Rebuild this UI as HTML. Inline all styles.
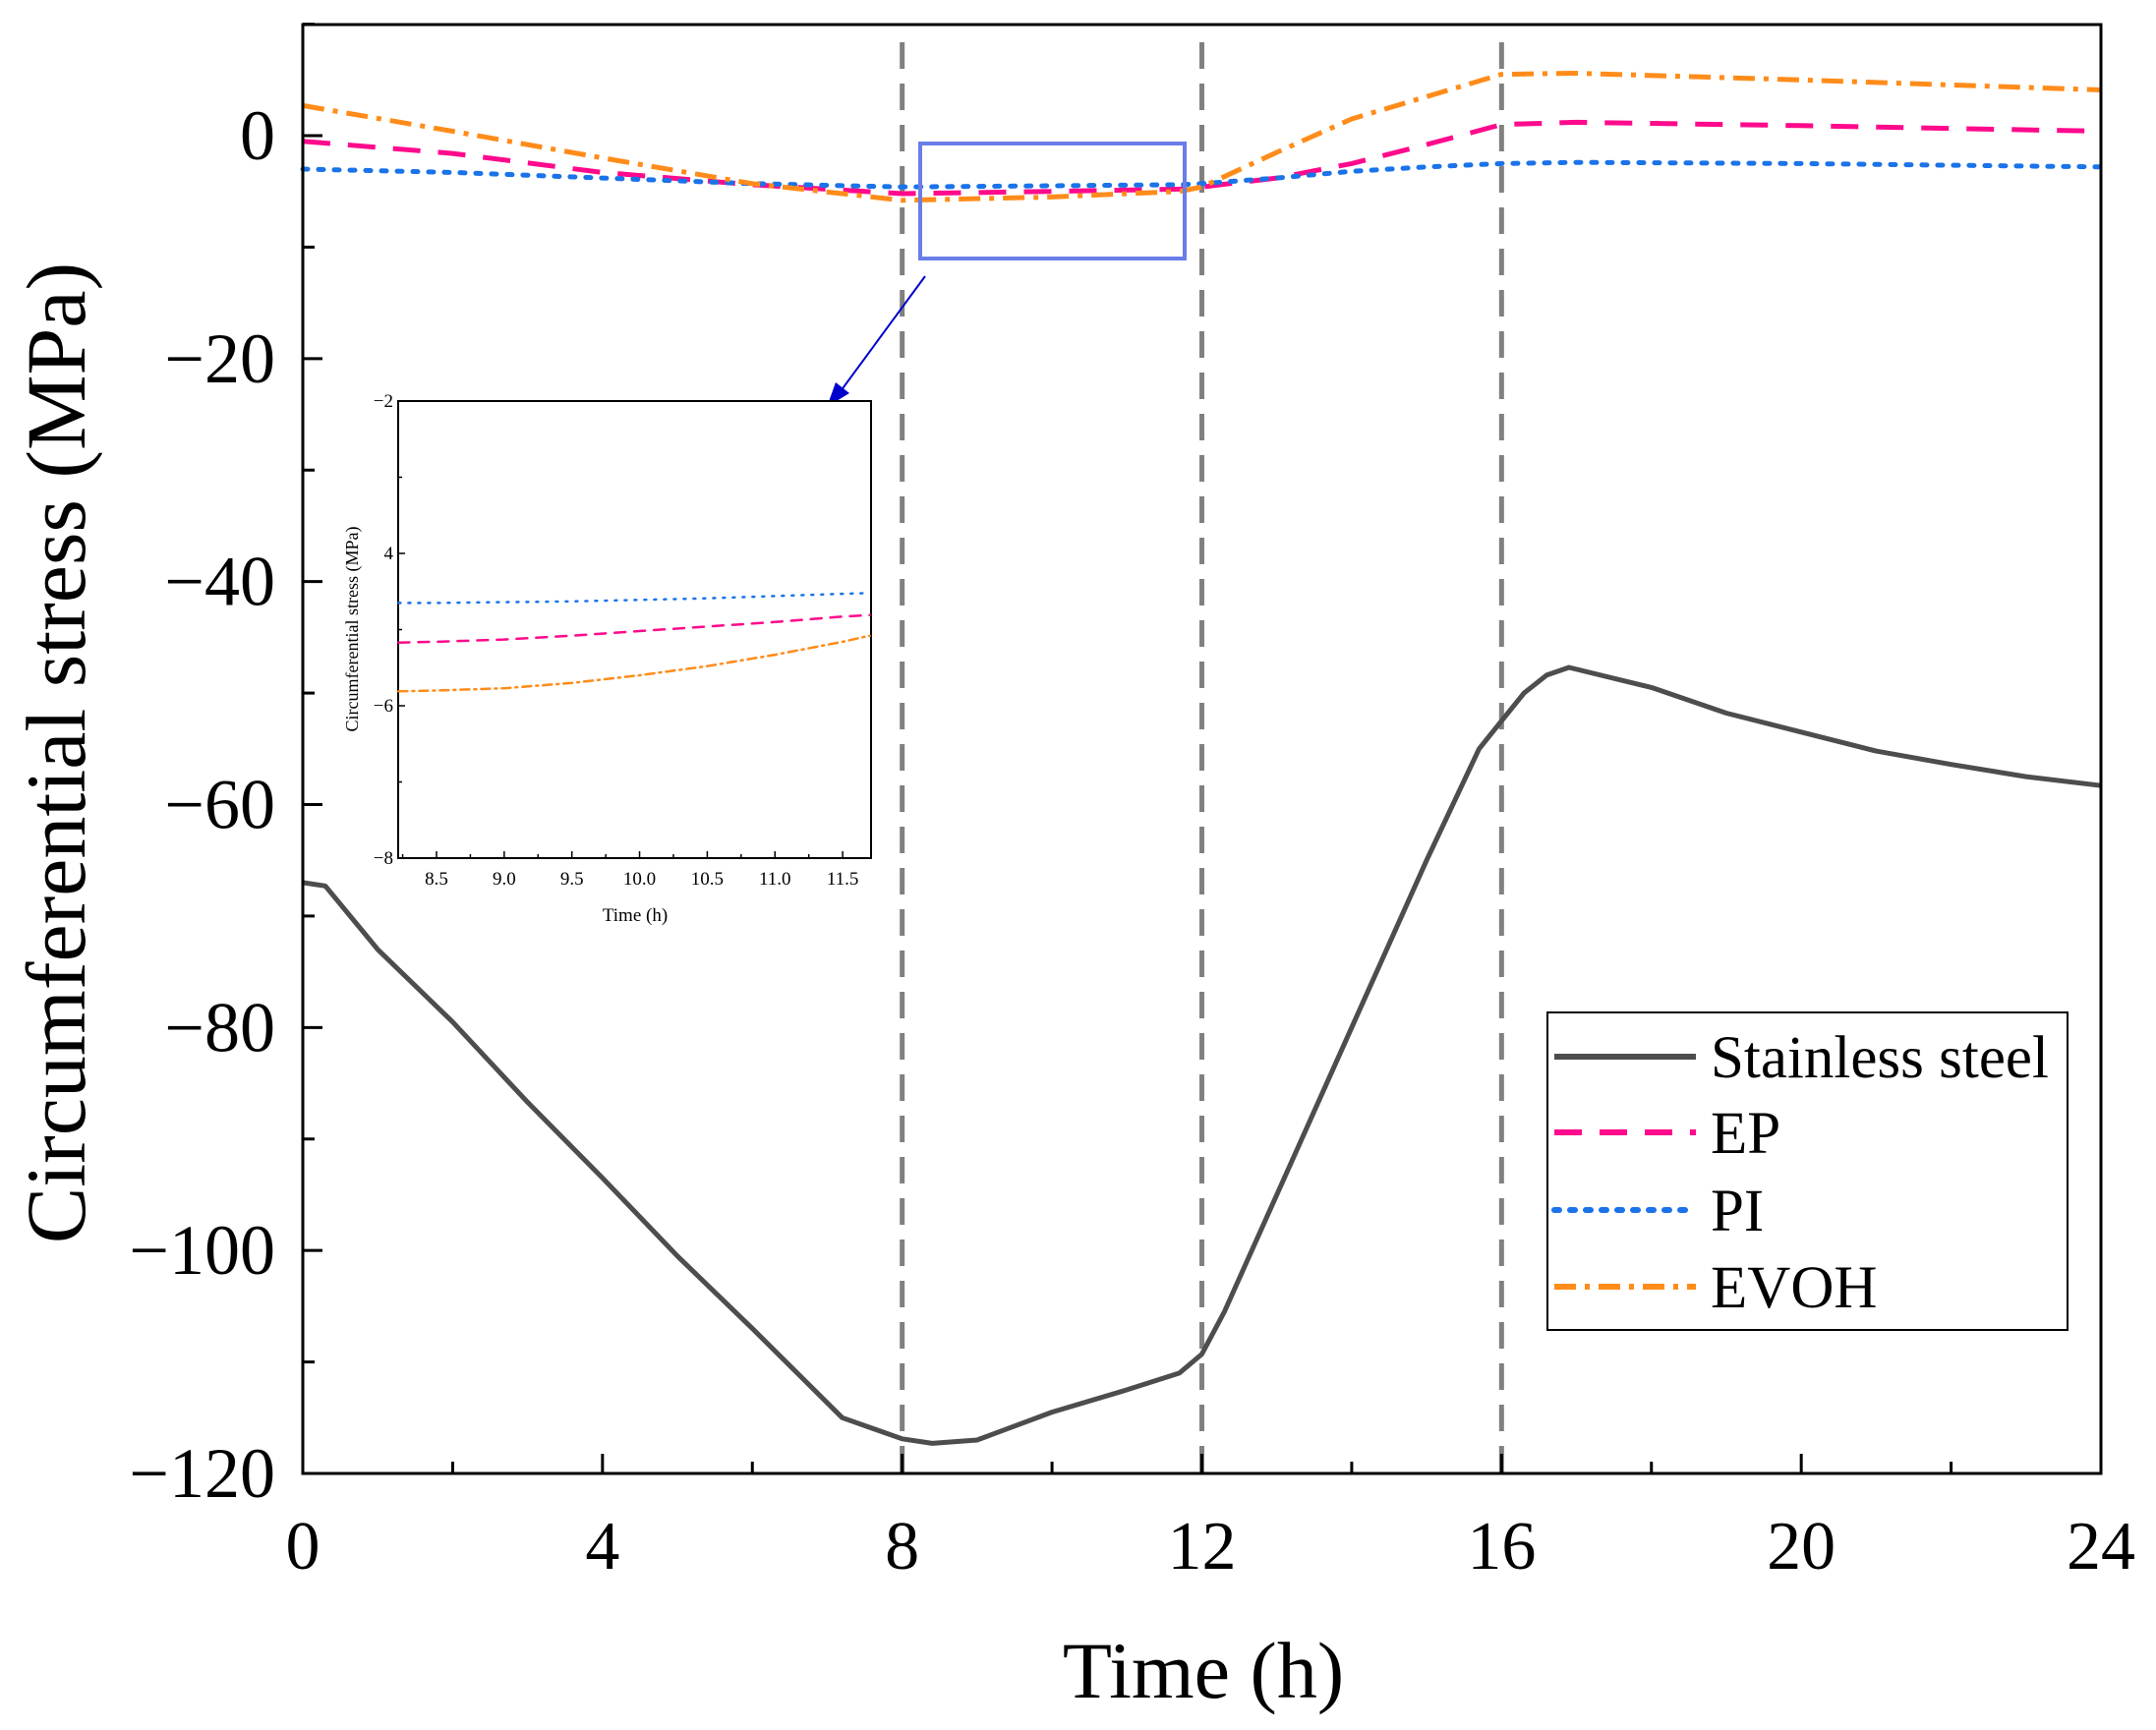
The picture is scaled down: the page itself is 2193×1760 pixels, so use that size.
<!DOCTYPE html>
<html><head><meta charset="utf-8"><style>
html,body{margin:0;padding:0;background:#fff;}
svg{display:block;font-family:"Liberation Serif",serif;}
</style></head><body>
<svg id="chart" width="2193" height="1760" viewBox="0 0 2193 1760" xmlns="http://www.w3.org/2000/svg">
<g id="main"></g>
</svg>
<script>
const hours=[0,0.3,1,2,3,4,5,6,7.2,8,8.4,9,10,11,11.7,12,12.3,12.6,13,14,15,15.7,16,16.3,16.6,16.9,18,19,20,21,22,23,24];
const steel=[-67,-67.3,-73,-79.5,-86.7,-93.5,-100.5,-107,-115,-116.9,-117.3,-117,-114.5,-112.5,-111,-109.3,-105.5,-101,-95,-80,-65,-55,-52.5,-50,-48.4,-47.7,-49.5,-51.8,-53.5,-55.2,-56.4,-57.5,-58.3];
const filmHours=[0,2,4,6,8,10,11.7,12,13,14,15,16,17,20,24];
const epVals=[-0.5,-1.6,-3.3,-4.4,-5.2,-5.0,-4.8,-4.6,-3.8,-2.5,-0.8,1.0,1.2,0.9,0.4];
const piVals=[-3.0,-3.3,-3.8,-4.3,-4.6,-4.5,-4.4,-4.3,-3.8,-3.2,-2.8,-2.5,-2.4,-2.5,-2.8];
const evohVals=[2.7,0.4,-2.0,-4.3,-5.8,-5.5,-5.0,-4.6,-1.5,1.5,3.5,5.5,5.6,5.0,4.1];
const xTicks=[0,4,8,12,16,20,24];
const yTicks=[0,-20,-40,-60,-80,-100,-120];
const vLines=[8,12,16];
const insetT=[8.22,8.5,9,9.5,10,10.5,11,11.5,11.7];
const insetEP=[-5.17,-5.16,-5.13,-5.08,-5.02,-4.96,-4.9,-4.83,-4.81];
const insetPI=[-4.65,-4.65,-4.64,-4.63,-4.61,-4.59,-4.56,-4.53,-4.52];
const insetEVOH=[-5.81,-5.8,-5.77,-5.7,-5.6,-5.48,-5.33,-5.16,-5.08];
const insetXTicks=["8.5","9.0","9.5","10.0","10.5","11.0","11.5"];
const insetYTicks=[-2,-4,-6,-8];
const insetYLabels=["\u22122","4","\u22126","\u22128"];

const NS="http://www.w3.org/2000/svg";
const g=document.getElementById('main');
function el(tag,attrs,parent,text){const e=document.createElementNS(NS,tag);for(const k in attrs)e.setAttribute(k,attrs[k]);if(text!==undefined)e.textContent=text;(parent||g).appendChild(e);return e;}
const L=308,R=2137,T=25,B=1499;
const X=t=>L+(t-0)/24*(R-L);
const Y=v=>138+(0-v)*(B-138)/120;
function path(xs,ys,fx,fy){return xs.map((x,i)=>(i?'L':'M')+fx(x).toFixed(1)+' '+fy(ys[i]).toFixed(1)).join(' ');}

vLines.forEach(v=>{
  const l=el('line',{x1:X(v),x2:X(v),y1:T+18,y2:B,stroke:'#808080','stroke-width':5,'stroke-dasharray':'27 15'});
  
  
});
const styles=[
 ['steel-line',hours,steel,'#4d4d4d',5,''],
 ['ep-line',filmHours,epVals,'#ff0a8c',5,'28 18'],
 ['pi-line',filmHours,piVals,'#1a73e8',5,'5 11'],
 ['evoh-line',filmHours,evohVals,'#ff8c1a',5,'22 9 5 9']];
styles.forEach(s=>{
  const p=el('path',{d:path(s[1],s[2],X,Y),fill:'none',stroke:s[3],'stroke-width':s[4],'stroke-dasharray':s[5],'stroke-linecap':s[5]==='5 11'?'round':'butt','stroke-linejoin':'round'});
  
  
});
const fr=el('rect',{x:L,y:T,width:R-L,height:B-T,fill:'none',stroke:'#000','stroke-width':3});


for(let t=0;t<=24;t+=2){const major=t%4===0;el('line',{x1:X(t),x2:X(t),y1:B,y2:B-(major?20:12),stroke:'#000','stroke-width':3});}
xTicks.forEach(t=>{
  const tx=el('text',{x:X(t),y:1596,'font-size':70,'text-anchor':'middle'},g,String(t));
  
  
});
for(let v=-120;v<=10;v+=10){const major=v%20===0;el('line',{x1:L,x2:L+(major?20:12),y1:Y(v),y2:Y(v),stroke:'#000','stroke-width':3});}
yTicks.forEach(v=>{
  const tx=el('text',{x:280,y:Y(v)+24,'font-size':72,'text-anchor':'end'},g,v===0?'0':'\u2212'+Math.abs(v));
  
  
});
const xt=el('text',{x:1224,y:1727,'font-size':82,'text-anchor':'middle'},g,'Time (h)');


const yt=el('text',{x:0,y:0,'font-size':86,'text-anchor':'middle',transform:'translate(86,766) rotate(-90)'},g,'Circumferential stress (MPa)');



const zr=el('rect',{x:936,y:146,width:269,height:117,fill:'none',stroke:'#6a7de8','stroke-width':4});


const ar=el('line',{x1:941,y1:281,x2:855,y2:398,stroke:'#0000cc','stroke-width':2});


el('polygon',{points:'841,414 850,389 864,400',fill:'#0000cc'});

const iL=405,iR=886,iT=408,iB=873;
const IX=t=>iL+(t-8.5)*137.7+39;
const IY=v=>iT+(-2-v)*77.5;
const ib=el('rect',{x:iL,y:iT,width:iR-iL,height:iB-iT,fill:'#fff',stroke:'#000','stroke-width':2});


[['inset-pi-line',insetPI,'#1a73e8','2 8'],['inset-ep-line',insetEP,'#ff0a8c','11 9'],['inset-evoh-line',insetEVOH,'#ff8c1a','9 5 2 5']].forEach(s=>{
  const p=el('path',{d:path(insetT,s[1],IX,IY),fill:'none',stroke:s[2],'stroke-width':2.5,'stroke-dasharray':s[3],'stroke-linecap':'round'});
  
  
});
for(let t=8.25;t<=11.7;t+=0.25){const major=Math.abs((t*2)%1)<0.01;el('line',{x1:IX(t),x2:IX(t),y1:iB,y2:iB-(major?7:4),stroke:'#000','stroke-width':1.5});}
insetXTicks.forEach(s=>{
  const tx=el('text',{x:IX(parseFloat(s)),y:iB+27,'font-size':19,'text-anchor':'middle'},g,s);
  
  
});
for(let v=-8;v<=-2;v+=1){el('line',{x1:iL,x2:iL+(v%2===0?7:4),y1:IY(v),y2:IY(v),stroke:'#000','stroke-width':1.5});}
insetYTicks.forEach((v,i)=>{
  const tx=el('text',{x:iL-5,y:IY(v)+6,'font-size':19,'text-anchor':'end'},g,insetYLabels[i]);
  
  
});
const ixt=el('text',{x:646,y:937,'font-size':19,'text-anchor':'middle'},g,'Time (h)');


const iyt=el('text',{x:0,y:0,'font-size':18,'text-anchor':'middle',transform:'translate(364,640) rotate(-90)'},g,'Circumferential stress (MPa)');



const lg=el('rect',{x:1574,y:1030,width:529,height:323,fill:'#fff',stroke:'#000','stroke-width':2});


const legNames=['Stainless steel','EP','PI','EVOH'];
const legYs=[1075,1152,1231,1309];
styles.forEach((s,i)=>{
  const ln=el('line',{x1:1581,x2:1725,y1:legYs[i],y2:legYs[i],stroke:s[3],'stroke-width':6,'stroke-dasharray':s[5],'stroke-linecap':s[5]==='5 11'?'round':'butt'});
  
  
  const tx=el('text',{x:1740,y:legYs[i]+21,'font-size':61},g,legNames[i]);
  
  
});
</script>
</body></html>
